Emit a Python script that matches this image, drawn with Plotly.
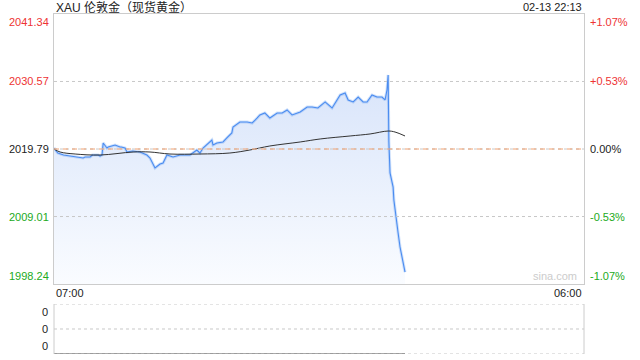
import plotly.graph_objects as go

# ---------------- data ----------------
prev_close = 2019.79
title_text = "XAU 伦敦金（现货黄金）"
timestamp_text = "02-13 22:13"
x_tick_labels = ["07:00", "06:00"]
session_minutes = 1380  # 07:00 -> 06:00 next day

left_tick_values = [2041.34, 2030.57, 2019.79, 2009.01, 1998.24]
right_tick_labels = ["+1.07%", "+0.53%", "0.00%", "-0.53%", "-1.07%"]

# minutes after 07:00 and price
price_minutes = [0, 10, 25, 42, 60, 76, 81, 94, 100, 115, 120, 125, 128, 135, 138, 141,
                 154, 159, 172, 175, 185, 190, 205, 224, 242, 250, 263, 276, 284, 294,
                 310, 328, 354, 372, 380, 388, 411, 414, 424, 440, 450, 463, 466, 484,
                 503, 516, 529, 536, 549, 562, 581, 594, 607, 620, 641, 659, 672, 687,
                 706, 724, 745, 758, 766, 779, 792, 805, 815, 828, 841, 854, 862, 867,
                 870, 872, 875, 880, 883, 885, 888, 890, 893, 896, 901, 906, 909, 914]
price_values = [2019.95, 2019.15, 2018.83, 2018.67, 2018.51, 2018.35, 2018.51, 2018.51,
                2018.83, 2018.83, 2018.67, 2018.83, 2020.75, 2020.27, 2019.95, 2020.11,
                2020.43, 2020.43, 2020.11, 2020.11, 2019.95, 2019.31, 2019.47, 2019.31,
                2018.83, 2018.35, 2016.76, 2017.39, 2017.55, 2018.83, 2018.51, 2018.83,
                2018.83, 2019.63, 2019.15, 2019.95, 2021.23, 2020.43, 2020.75, 2020.91,
                2021.55, 2022.35, 2023.30, 2024.10, 2024.10, 2023.94, 2024.74, 2025.22,
                2025.54, 2024.74, 2025.54, 2025.54, 2026.02, 2025.22, 2025.70, 2026.50,
                2026.50, 2026.34, 2027.30, 2026.34, 2028.41, 2028.73, 2027.62, 2027.30,
                2028.09, 2027.30, 2027.30, 2028.41, 2028.09, 2028.09, 2027.62, 2029.21,
                2031.61, 2020.91, 2015.96, 2014.84, 2013.72, 2011.65, 2010.05, 2008.93,
                2007.33, 2006.38, 2004.14, 2002.54, 2001.58, 2000.15]

avg_minutes = [0, 16, 55, 120, 206, 250, 302, 380, 458, 510, 562, 641, 693, 771, 823,
               870, 888, 914]
avg_values = [2019.79, 2019.31, 2018.99, 2018.83, 2019.31, 2019.31, 2018.99, 2018.99,
              2019.15, 2019.63, 2020.27, 2020.91, 2021.39, 2021.87, 2022.19, 2022.66,
              2022.50, 2021.87]

volume_values = [0 for _ in price_minutes]
volume_tick_labels = ["0", "0", "0"]

# ---------------- figure ----------------
RED = "#ee3333"
GREEN = "#22aa22"
BLACK = "#222222"
FONT = "Liberation Sans, Arial, Noto Sans CJK SC, sans-serif"

fig = go.Figure()

# price fill + glow
fig.add_trace(go.Scatter(
    x=price_minutes, y=price_values, mode="lines",
    line=dict(color="rgba(90,150,240,0.28)", width=3),
    fill="tozeroy",
    fillgradient=dict(type="vertical",
                      colorscale=[[0, "rgba(250,252,255,1)"], [1, "rgba(216,228,250,1)"]],
                      start=left_tick_values[-1], stop=2031.6),
    hoverinfo="skip", showlegend=False, xaxis="x", yaxis="y"))
fig.add_trace(go.Scatter(
    x=price_minutes, y=price_values, mode="lines",
    line=dict(color="#4a8cf0", width=1.1),
    showlegend=False, xaxis="x", yaxis="y"))
fig.add_trace(go.Scatter(
    x=avg_minutes, y=avg_values, mode="lines",
    line=dict(color="#333333", width=1, shape="spline"),
    showlegend=False, xaxis="x", yaxis="y"))

# volume panel (all zero)
fig.add_trace(go.Scatter(
    x=price_minutes, y=volume_values, mode="lines",
    line=dict(color="#555555", width=1.2),
    showlegend=False, xaxis="x2", yaxis="y2"))

main_dom = [0.2059, 1.0]
vol_dom = [0.0, 0.1471]

fig.update_layout(
    width=640, height=360,
    margin=dict(l=54, r=56, t=14, b=6),
    paper_bgcolor="white", plot_bgcolor="white",
    font=dict(family=FONT, size=11, color=BLACK),
    xaxis=dict(range=[0, session_minutes], domain=[0, 1], showgrid=False, zeroline=False,
               showticklabels=False, showline=True, linecolor="#cccccc", linewidth=1,
               mirror=True, anchor="y"),
    yaxis=dict(range=[left_tick_values[-1], left_tick_values[0]], domain=main_dom,
               showgrid=False, zeroline=False, showticklabels=False, showline=True,
               linecolor="#cccccc", linewidth=1, mirror=True, anchor="x"),
    xaxis2=dict(range=[0, session_minutes], domain=[0, 1], showgrid=False, zeroline=False,
                showticklabels=False, showline=False, anchor="y2"),
    yaxis2=dict(range=[0, 2], domain=vol_dom, showgrid=False, zeroline=False,
                showticklabels=False, showline=False, anchor="x2"),
)

shapes = []
# dotted grid lines in main panel (drawn over the area fill, as in the reference)
for v in left_tick_values[1:4]:
    shapes.append(dict(type="line", xref="x domain", yref="y", x0=0, x1=1, y0=v, y1=v,
                       line=dict(color="#c8c8c8", width=1, dash="dot"), layer="above"))
shapes.append(dict(type="line", xref="x domain", yref="y", x0=0, x1=1, y0=prev_close,
                   y1=prev_close, line=dict(color="#f0a070", width=1, dash="5px,4px"),
                   layer="above"))
# volume panel frame
for v in [2, 1, 0]:
    shapes.append(dict(type="line", xref="x2 domain", yref="y2", x0=0, x1=1, y0=v, y1=v,
                       line=dict(color="#c8c8c8", width=1, dash="dot"), layer="below"))
for xv in [0, 1]:
    shapes.append(dict(type="line", xref="x2 domain", yref="y2", x0=xv, x1=xv, y0=0, y1=2,
                       line=dict(color="#cccccc", width=1)))
fig.update_layout(shapes=shapes)

ann = []
left_colors = [RED, RED, BLACK, GREEN, GREEN]
anchors = ["top", "middle", "middle", "middle", "bottom"]
for v, c, a in zip(left_tick_values, left_colors, anchors):
    ann.append(dict(xref="paper", yref="y", x=-0.006, y=v, text=f"{v:.2f}",
                    xanchor="right", yanchor=a, showarrow=False,
                    font=dict(size=11, color=c, family=FONT)))
for v, t, c, a in zip(left_tick_values, right_tick_labels, left_colors, anchors):
    ann.append(dict(xref="paper", yref="y", x=1.008, y=v, text=t,
                    xanchor="left", yanchor=a, showarrow=False,
                    font=dict(size=11, color=c, family=FONT)))
# x tick labels
ann.append(dict(xref="paper", yref="paper", x=0, y=0.20588, text=x_tick_labels[0],
                xanchor="left", yanchor="top", yshift=-1, showarrow=False,
                font=dict(size=11, color=BLACK, family=FONT)))
ann.append(dict(xref="paper", yref="paper", x=1, y=0.20588, text=x_tick_labels[1],
                xanchor="right", yanchor="top", yshift=-1, showarrow=False,
                font=dict(size=11, color=BLACK, family=FONT)))
# volume labels
for v, t, a in zip([2, 1, 0], volume_tick_labels, ["top", "middle", "bottom"]):
    ann.append(dict(xref="paper", yref="y2", x=-0.008, y=v, text=t, xanchor="right",
                    yanchor=a, showarrow=False, font=dict(size=11, color=BLACK, family=FONT)))
# title + timestamp
ann.append(dict(xref="paper", yref="paper", x=0, y=1, yshift=7, text=title_text,
                xanchor="left", yanchor="middle", showarrow=False,
                font=dict(size=12, color=BLACK, family=FONT)))
ann.append(dict(xref="paper", yref="paper", x=1, y=1, yshift=7, text=timestamp_text,
                xanchor="right", yanchor="middle", showarrow=False,
                font=dict(size=11, color=BLACK, family=FONT)))
# watermark
ann.append(dict(xref="paper", yref="y", x=0.99, y=left_tick_values[-1], text="sina.com",
                xanchor="right", yanchor="bottom", showarrow=False,
                font=dict(size=11, color="#cccccc", family=FONT)))
fig.update_layout(annotations=ann)

fig.write_html("out.html")
